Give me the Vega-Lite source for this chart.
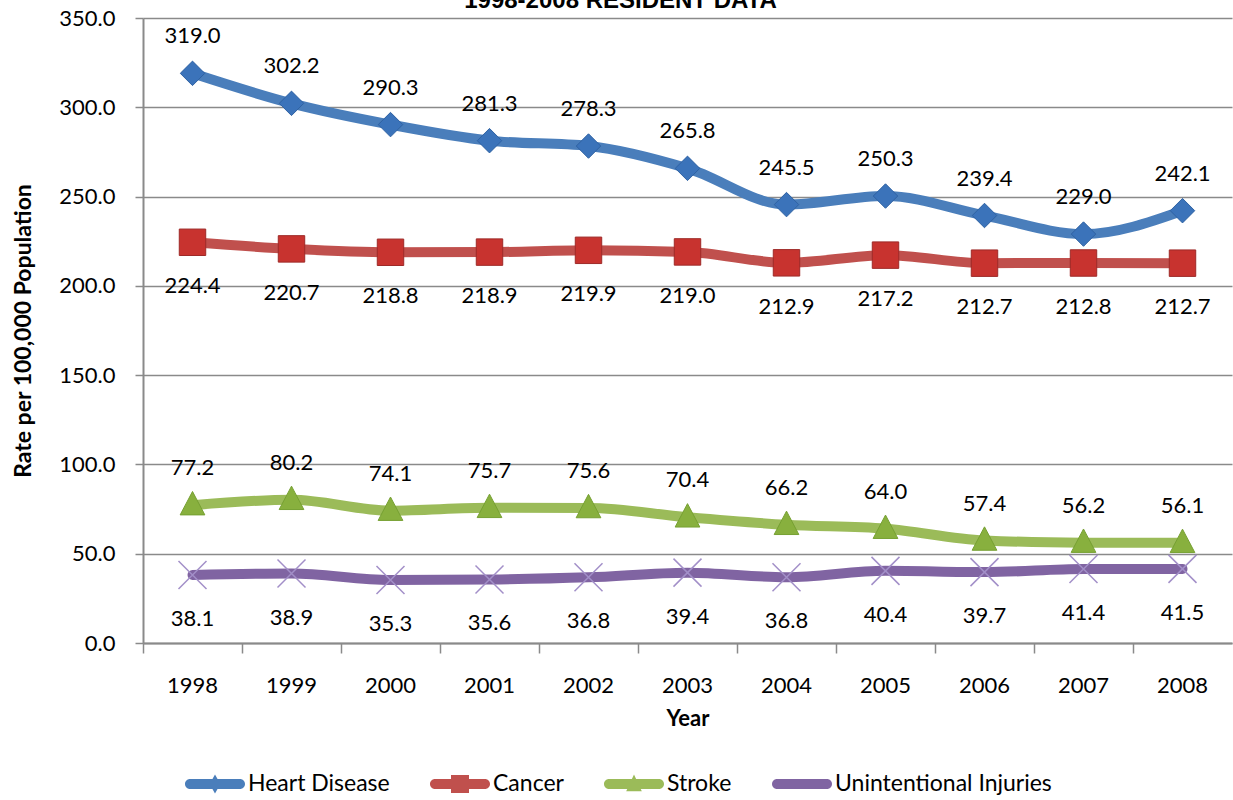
{
  "$schema": "https://vega.github.io/schema/vega-lite/v6.json",
  "width": 1089,
  "height": 625,
  "autosize": "none",
  "padding": {"left": 143, "top": 18, "right": 1, "bottom": 157},
  "background": "white",
  "config": {"view": {"stroke": null}},
  "title": {
    "text": "1998-2008 RESIDENT DATA",
    "font": "Liberation Sans",
    "fontSize": 24,
    "fontWeight": "bold",
    "color": "#000000",
    "anchor": "middle",
    "frame": "group",
    "dx": -67,
    "offset": -6
  },
  "datasets": {
    "rates": [
      {"year": "1998", "series": "Heart Disease", "rate": 319.0},
      {"year": "1999", "series": "Heart Disease", "rate": 302.2},
      {"year": "2000", "series": "Heart Disease", "rate": 290.3},
      {"year": "2001", "series": "Heart Disease", "rate": 281.3},
      {"year": "2002", "series": "Heart Disease", "rate": 278.3},
      {"year": "2003", "series": "Heart Disease", "rate": 265.8},
      {"year": "2004", "series": "Heart Disease", "rate": 245.5},
      {"year": "2005", "series": "Heart Disease", "rate": 250.3},
      {"year": "2006", "series": "Heart Disease", "rate": 239.4},
      {"year": "2007", "series": "Heart Disease", "rate": 229.0},
      {"year": "2008", "series": "Heart Disease", "rate": 242.1},
      {"year": "1998", "series": "Cancer", "rate": 224.4},
      {"year": "1999", "series": "Cancer", "rate": 220.7},
      {"year": "2000", "series": "Cancer", "rate": 218.8},
      {"year": "2001", "series": "Cancer", "rate": 218.9},
      {"year": "2002", "series": "Cancer", "rate": 219.9},
      {"year": "2003", "series": "Cancer", "rate": 219.0},
      {"year": "2004", "series": "Cancer", "rate": 212.9},
      {"year": "2005", "series": "Cancer", "rate": 217.2},
      {"year": "2006", "series": "Cancer", "rate": 212.7},
      {"year": "2007", "series": "Cancer", "rate": 212.8},
      {"year": "2008", "series": "Cancer", "rate": 212.7},
      {"year": "1998", "series": "Stroke", "rate": 77.2},
      {"year": "1999", "series": "Stroke", "rate": 80.2},
      {"year": "2000", "series": "Stroke", "rate": 74.1},
      {"year": "2001", "series": "Stroke", "rate": 75.7},
      {"year": "2002", "series": "Stroke", "rate": 75.6},
      {"year": "2003", "series": "Stroke", "rate": 70.4},
      {"year": "2004", "series": "Stroke", "rate": 66.2},
      {"year": "2005", "series": "Stroke", "rate": 64.0},
      {"year": "2006", "series": "Stroke", "rate": 57.4},
      {"year": "2007", "series": "Stroke", "rate": 56.2},
      {"year": "2008", "series": "Stroke", "rate": 56.1},
      {"year": "1998", "series": "Unintentional Injuries", "rate": 38.1},
      {"year": "1999", "series": "Unintentional Injuries", "rate": 38.9},
      {"year": "2000", "series": "Unintentional Injuries", "rate": 35.3},
      {"year": "2001", "series": "Unintentional Injuries", "rate": 35.6},
      {"year": "2002", "series": "Unintentional Injuries", "rate": 36.8},
      {"year": "2003", "series": "Unintentional Injuries", "rate": 39.4},
      {"year": "2004", "series": "Unintentional Injuries", "rate": 36.8},
      {"year": "2005", "series": "Unintentional Injuries", "rate": 40.4},
      {"year": "2006", "series": "Unintentional Injuries", "rate": 39.7},
      {"year": "2007", "series": "Unintentional Injuries", "rate": 41.4},
      {"year": "2008", "series": "Unintentional Injuries", "rate": 41.5}
    ]
  },
  "data": {"name": "rates"},
  "encoding": {
    "x": {
      "field": "year",
      "type": "ordinal",
      "scale": {"type": "band", "paddingInner": 0, "paddingOuter": 0},
      "axis": {
        "title": "Year",
        "bandPosition": 0,
        "labelAngle": 0,
        "labelFont": "Lato",
        "labelFontSize": 22,
        "labelColor": "#000000",
        "labelPadding": 22,
        "tickSize": 10,
        "tickColor": "#8a8a8a",
        "tickWidth": 1.5,
        "domainColor": "#8a8a8a",
        "domainWidth": 2,
        "grid": false,
        "titleFont": "Lato",
        "titleFontSize": 22,
        "titleFontWeight": "bold",
        "titleColor": "#000000",
        "titlePadding": 12
      }
    },
    "y": {
      "field": "rate",
      "type": "quantitative",
      "scale": {"domain": [0, 350], "nice": false},
      "axis": {
        "title": "Rate per 100,000 Population",
        "values": [0, 50, 100, 150, 200, 250, 300, 350],
        "format": ".1f",
        "labelFont": "Lato",
        "labelFontSize": 22,
        "labelColor": "#000000",
        "labelPadding": 20,
        "tickSize": 8,
        "tickColor": "#8a8a8a",
        "tickWidth": 1.5,
        "domainColor": "#8a8a8a",
        "domainWidth": 2,
        "grid": true,
        "gridColor": "#8a8a8a",
        "gridWidth": 1.5,
        "titleFont": "Lato",
        "titleFontSize": 23,
        "titleFontWeight": "bold",
        "titleColor": "#000000",
        "titlePadding": 23
      }
    }
  },
  "layer": [
    {
      "transform": [{"filter": "datum.rate < -1000"}],
      "mark": {"type": "point", "filled": true, "opacity": 1, "size": 3600},
      "encoding": {
        "color": {
          "field": "series",
          "type": "nominal",
          "scale": {
            "domain": ["Heart Disease", "Cancer", "Stroke", "Unintentional Injuries"],
            "range": ["#4a7ebb", "#c0504d", "#9bbb59", "#8064a2"]
          },
          "legend": {
            "title": null,
            "orient": "none",
            "legendX": 42,
            "legendY": 736,
            "direction": "horizontal",
            "symbolSize": 3600,
            "symbolStrokeWidth": 0,
            "labelFont": "Lato",
            "labelFontSize": 23,
            "labelColor": "#000000",
            "labelOffset": 3,
            "labelLimit": 0,
            "columnPadding": 40,
            "padding": 0
          }
        },
        "shape": {
          "field": "series",
          "type": "nominal",
          "scale": {
            "domain": ["Heart Disease", "Cancer", "Stroke", "Unintentional Injuries"],
            "range": [
              "M-0.833,-0.167L0.833,-0.167A0.167,0.167 0 0 1 0.833,0.167L-0.833,0.167A0.167,0.167 0 0 1 -0.833,-0.167ZM0,-0.32L0.18,0L0,0.32L-0.18,0Z",
              "M-0.833,-0.167L0.833,-0.167A0.167,0.167 0 0 1 0.833,0.167L-0.833,0.167A0.167,0.167 0 0 1 -0.833,-0.167ZM-0.3,-0.3L0.3,-0.3L0.3,0.3L-0.3,0.3Z",
              "M-0.833,-0.167L0.833,-0.167A0.167,0.167 0 0 1 0.833,0.167L-0.833,0.167A0.167,0.167 0 0 1 -0.833,-0.167ZM0,-0.32L0.26,0.24L-0.26,0.24Z",
              "M-0.833,-0.167L0.833,-0.167A0.167,0.167 0 0 1 0.833,0.167L-0.833,0.167A0.167,0.167 0 0 1 -0.833,-0.167Z"
            ]
          },
          "legend": {
            "title": null,
            "orient": "none",
            "legendX": 42,
            "legendY": 736,
            "direction": "horizontal",
            "symbolSize": 3600,
            "symbolStrokeWidth": 0,
            "labelFont": "Lato",
            "labelFontSize": 23,
            "labelColor": "#000000",
            "labelOffset": 3,
            "labelLimit": 0,
            "columnPadding": 40,
            "padding": 0
          }
        }
      }
    },
    {
      "transform": [{"filter": "datum.series === 'Heart Disease'"}],
      "mark": {"type": "line", "interpolate": "monotone", "strokeWidth": 10, "strokeCap": "round", "strokeJoin": "round", "color": "#4a7ebb"}
    },
    {
      "transform": [{"filter": "datum.series === 'Cancer'"}],
      "mark": {"type": "line", "interpolate": "monotone", "strokeWidth": 10, "strokeCap": "round", "strokeJoin": "round", "color": "#c0504d"}
    },
    {
      "transform": [{"filter": "datum.series === 'Stroke'"}],
      "mark": {"type": "line", "interpolate": "monotone", "strokeWidth": 10, "strokeCap": "round", "strokeJoin": "round", "color": "#9bbb59"}
    },
    {
      "transform": [{"filter": "datum.series === 'Unintentional Injuries'"}],
      "mark": {"type": "line", "interpolate": "monotone", "strokeWidth": 10, "strokeCap": "round", "strokeJoin": "round", "color": "#8064a2"}
    },
    {
      "transform": [{"filter": "datum.series === 'Heart Disease'"}],
      "mark": {"type": "point", "shape": "diamond", "size": 600, "filled": true, "opacity": 1, "fill": "#3b73ba", "stroke": "#2f62a3", "strokeWidth": 1}
    },
    {
      "transform": [{"filter": "datum.series === 'Cancer'"}],
      "mark": {"type": "point", "shape": "square", "size": 700, "filled": true, "opacity": 1, "fill": "#c8332f", "stroke": "#9e2a28", "strokeWidth": 1}
    },
    {
      "transform": [{"filter": "datum.series === 'Stroke'"}],
      "mark": {"type": "point", "shape": "M0,-1.05L0.95,0.75L-0.95,0.75Z", "size": 676, "filled": true, "opacity": 1, "fill": "#88b03e", "stroke": "#76a032", "strokeWidth": 1}
    },
    {
      "transform": [{"filter": "datum.series === 'Unintentional Injuries'"}],
      "mark": {"type": "point", "shape": "M-1,-1L1,1M-1,1L1,-1", "size": 784, "filled": false, "opacity": 1, "stroke": "#a28fc8", "strokeWidth": 1.5}
    },
    {
      "transform": [{"filter": "datum.series === 'Heart Disease' || datum.series === 'Stroke'"}],
      "mark": {"type": "text", "font": "Lato", "fontSize": 22, "color": "#000000", "baseline": "middle", "align": "center", "dy": -37},
      "encoding": {"text": {"field": "rate", "type": "quantitative", "format": ".1f"}}
    },
    {
      "transform": [{"filter": "datum.series === 'Cancer' || datum.series === 'Unintentional Injuries'"}],
      "mark": {"type": "text", "font": "Lato", "fontSize": 22, "color": "#000000", "baseline": "middle", "align": "center", "dy": 44},
      "encoding": {"text": {"field": "rate", "type": "quantitative", "format": ".1f"}}
    }
  ]
}
